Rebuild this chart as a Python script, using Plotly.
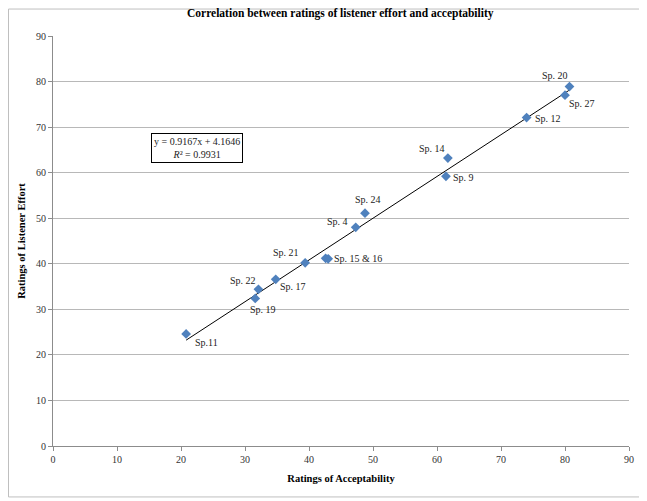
import plotly.graph_objects as go

# Data
acceptability = [20.8, 31.6, 32.1, 34.8, 39.4, 42.6, 43.0, 47.3, 48.75, 61.4, 61.7, 74.0, 80.0, 80.7]
listener_effort = [24.6, 32.4, 34.4, 36.6, 40.2, 41.2, 41.1, 48.0, 51.1, 59.2, 63.2, 72.1, 77.0, 78.9]
labels = ["Sp.11", "Sp. 19", "Sp. 22", "Sp. 17", "Sp. 21", "Sp. 15 & 16", "", "Sp. 4", "Sp. 24",
          "Sp. 9", "Sp. 14", "Sp. 12", "Sp. 27", "Sp. 20"]
# label offsets in pixels (dx right, dy up)
label_dx = [20, 8, -15, 17, -19, 32, 0, -18, 3, 18, -16, 21, 17, -14]
label_dy = [-9, -11, 9, -7, 10, 0, 0, 6, 14, -1, 10, -1, -8, 11]

slope = 0.9167
intercept = 4.1646
r_squared = 0.9931

x_ticks = list(range(0, 91, 10))
y_ticks = list(range(0, 91, 10))

FONT = "Liberation Serif, Times New Roman, serif"

# page body has an 8px margin, so the figure is 8px smaller than the window
W, H = 639, 493
L, R, T, B = 45, 18, 27.5, 55
PW, PH = W - L - R, H - T - B

fig = go.Figure()

xmin, xmax = min(acceptability), max(acceptability)
fig.add_trace(go.Scatter(
    x=[xmin, xmax], y=[slope * xmin + intercept, slope * xmax + intercept],
    mode="lines", line=dict(color="black", width=1), hoverinfo="skip", showlegend=False))

fig.add_trace(go.Scatter(
    x=acceptability, y=listener_effort, mode="markers",
    marker=dict(symbol="diamond", size=7.5, color="#4F81BD", line=dict(width=0)),
    showlegend=False))

annotations = []
for xv, yv, t, dx, dy in zip(acceptability, listener_effort, labels, label_dx, label_dy):
    if not t:
        continue
    annotations.append(dict(x=xv, y=yv, text=t, showarrow=False, xshift=dx, yshift=dy,
                            font=dict(family=FONT, size=10, color="#222222")))

annotations.append(dict(
    x=22.5, y=65.4, xref="x", yref="y",
    text=f"y = {slope}x + {intercept}<br><i>R</i>² = {r_squared}",
    showarrow=False, align="center",
    font=dict(family=FONT, size=10, color="#222222"),
    bordercolor="black", borderwidth=1, borderpad=2, bgcolor="white"))

fig.update_layout(
    width=W, height=H,
    margin=dict(l=L, r=R, t=T, b=B),
    paper_bgcolor="white", plot_bgcolor="white",
    title=dict(text="<b>Correlation between ratings of listener effort and acceptability</b>",
               x=0.52, xanchor="center", y=0.99, yanchor="middle",
               font=dict(family=FONT, size=11.5, color="black")),
    xaxis=dict(range=[0, 90], tickvals=x_ticks, showgrid=False, zeroline=False, automargin=False,
               showline=True, linecolor="#8c8c8c", linewidth=1,
               ticks="outside", ticklen=4, tickcolor="#8c8c8c",
               tickfont=dict(family=FONT, size=10, color="#333333"),
               title=dict(text="<b>Ratings of Acceptability</b>", standoff=10,
                          font=dict(family=FONT, size=10.5, color="black"))),
    yaxis=dict(range=[0, 90], tickvals=y_ticks, showgrid=True, gridcolor="#b8b8b8", gridwidth=1,
               zeroline=False, showline=True, linecolor="#8c8c8c", linewidth=1, automargin=False,
               ticks="outside", ticklen=4, tickcolor="#8c8c8c",
               tickfont=dict(family=FONT, size=10, color="#333333"),
               title=dict(text="<b>Ratings of Listener Effort</b>", standoff=8,
                          font=dict(family=FONT, size=10.5, color="black"))),
    annotations=annotations,
    shapes=[dict(type="rect", xref="paper", yref="paper",
                 x0=(0.5 - L) / PW, x1=(635 - L) / PW,
                 y0=-(B - 4) / PH, y1=(PH + T - 0.5) / PH,
                 line=dict(color="#bfbfbf", width=1), fillcolor="rgba(0,0,0,0)", layer="below")],
)

fig.write_html("out.html")
